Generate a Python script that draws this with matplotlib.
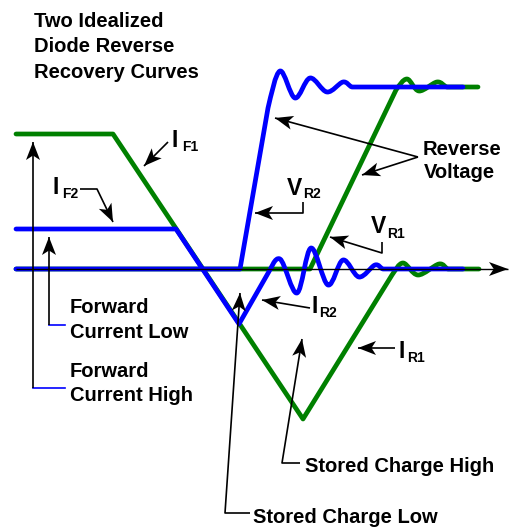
import numpy as np
import matplotlib.pyplot as plt
from matplotlib.path import Path
from matplotlib.patches import PathPatch

plt.rcParams['font.family'] = ['Liberation Sans', 'DejaVu Sans']

# curves in picture pixel units (x right, y down)
# green = high forward current diode, blue = low forward current diode
green_i_line = [(16, 134), (113, 134), (303, 419), (392, 275)]
green_i_ring = [(392, 275), (403, 263), (418, 275), (439, 264), (448, 269)]
green_i_tail = [(448, 269), (479, 269)]

green_v_line = [(16, 269), (310, 269), (396, 90)]
green_v_ring = [(396, 90), (407, 79), (419, 91), (437, 82), (447, 87)]
green_v_tail = [(447, 87), (478, 87)]

blue_i_line = [(16, 229), (176, 229), (239, 324), (267, 275)]
blue_i_ring = [(267, 275), (280, 259), (297, 293), (311, 248), (328, 285),
               (343, 260), (359, 277), (375, 265), (383, 269)]
blue_i_tail = [(383, 269), (463, 269)]

blue_v_line = [(16, 269), (240, 269), (268, 108)]
blue_v_ring = [(268, 108), (280, 71), (295, 98), (310, 78), (327, 92),
               (343, 82), (352, 87)]
blue_v_tail = [(352, 87), (463, 87)]

GREEN = '#008000'
BLUE = '#0000ff'


def unit(v):
    return v / np.hypot(*v)


def curve_path(line, ring, tail):
    pts = [np.array(p, float) for p in line]
    verts = list(pts)
    codes = [Path.MOVETO] + [Path.LINETO] * (len(pts) - 1)
    r = [np.array(p, float) for p in ring]
    end = np.array(tail[-1], float)
    # phantom neighbours keep the ringing tangent to the straight parts
    pre = r[0] - unit(r[0] - pts[-2]) * np.hypot(*(r[1] - r[0]))
    post = r[-1] + unit(end - r[-1]) * np.hypot(*(r[-1] - r[-2]))
    full = [pre] + r + [post]
    for i in range(1, len(full) - 2):
        p0, p1, p2, p3 = full[i - 1], full[i], full[i + 1], full[i + 2]
        c1 = p1 + (p2 - p0) / 6
        c2 = p2 - (p3 - p1) / 6
        verts += [c1, c2, p2]
        codes += [Path.CURVE4] * 3
    verts.append(end)
    codes.append(Path.LINETO)
    return Path(verts, codes)


fig = plt.figure(figsize=(5.1, 5.29), dpi=100)
ax = fig.add_axes([0, 0, 1, 1])
ax.set_xlim(0, 510)
ax.set_ylim(529, 0)
ax.axis('off')


def arrow(pts, color='black', lw=1.2, L=18, W=7):
    xs = [p[0] for p in pts]
    ys = [p[1] for p in pts]
    ax.plot(xs, ys, color=color, lw=lw, solid_capstyle='butt', zorder=5)
    tip = np.array(pts[-1], float)
    d = unit(tip - np.array(pts[-2], float))
    n = np.array([-d[1], d[0]])
    head = [tip, tip - L * d + W * n, tip - 0.75 * L * d, tip - L * d - W * n]
    ax.fill([h[0] for h in head], [h[1] for h in head], color=color, lw=0, zorder=6)


# time axis
arrow([(16, 269), (508, 269)], lw=1.0, L=19, W=7)

for line, ring, tail, c in [(green_v_line, green_v_ring, green_v_tail, GREEN),
                            (green_i_line, green_i_ring, green_i_tail, GREEN),
                            (blue_v_line, blue_v_ring, blue_v_tail, BLUE),
                            (blue_i_line, blue_i_ring, blue_i_tail, BLUE)]:
    ax.add_patch(PathPatch(curve_path(line, ring, tail), fill=False, edgecolor=c,
                           lw=3.4, capstyle='round', joinstyle='round', zorder=3))

# title
title_lines = ['Two Idealized', 'Diode Reverse', 'Recovery Curves']
for k, t in enumerate(title_lines):
    ax.text(34, 27 + 25.5 * k, t, fontsize=14.5, fontweight='bold', va='baseline')

# plain labels: (text, x, baseline)
labels = [('Reverse', 423, 155), ('Voltage', 424, 178),
          ('Forward', 70, 313), ('Current Low', 70, 338),
          ('Forward', 70, 377), ('Current High', 70, 401),
          ('Stored Charge High', 305, 472), ('Stored Charge Low', 253, 523)]
for t, x, y in labels:
    ax.text(x, y, t, fontsize=14.5, fontweight='bold', va='baseline')

# symbol labels: (main, sub, x, baseline, sub x, sub baseline)
symbols = [('I', 'F1', 172, 147, 182, 151), ('I', 'F2', 53, 194, 62, 198),
           ('V', 'R2', 287, 195, 303, 198), ('V', 'R1', 371, 233, 387, 238),
           ('I', 'R2', 312, 313, 319, 317), ('I', 'R1', 399, 358, 407, 362)]
for m, s, x, y, sx, sy in symbols:
    ax.text(x, y, m, fontsize=16.5, fontweight='bold', va='baseline')
    ax.text(sx, sy, s, fontsize=10, fontweight='bold', va='baseline')

# pointer arrows
arrow([(168, 142), (144, 166)])
arrow([(80, 189), (97, 189), (113, 222)])
arrow([(33, 388), (33, 142)])
arrow([(49, 325), (49, 237)])
ax.plot([33, 65], [388, 388], color=BLUE, lw=1.2)
ax.plot([49, 65], [325, 325], color=BLUE, lw=1.2)
arrow([(250, 513), (225, 513), (240, 293)])
arrow([(300, 463), (282, 463), (302, 339)])
arrow([(395, 348), (358, 348)])
arrow([(310, 308), (262, 300)])
arrow([(382, 242), (382, 253), (330, 237)])
arrow([(303, 202), (303, 213), (255, 213)])
arrow([(418, 157), (275, 118)])
arrow([(418, 157), (362, 175)])

fig.savefig('out.png', dpi=100)
